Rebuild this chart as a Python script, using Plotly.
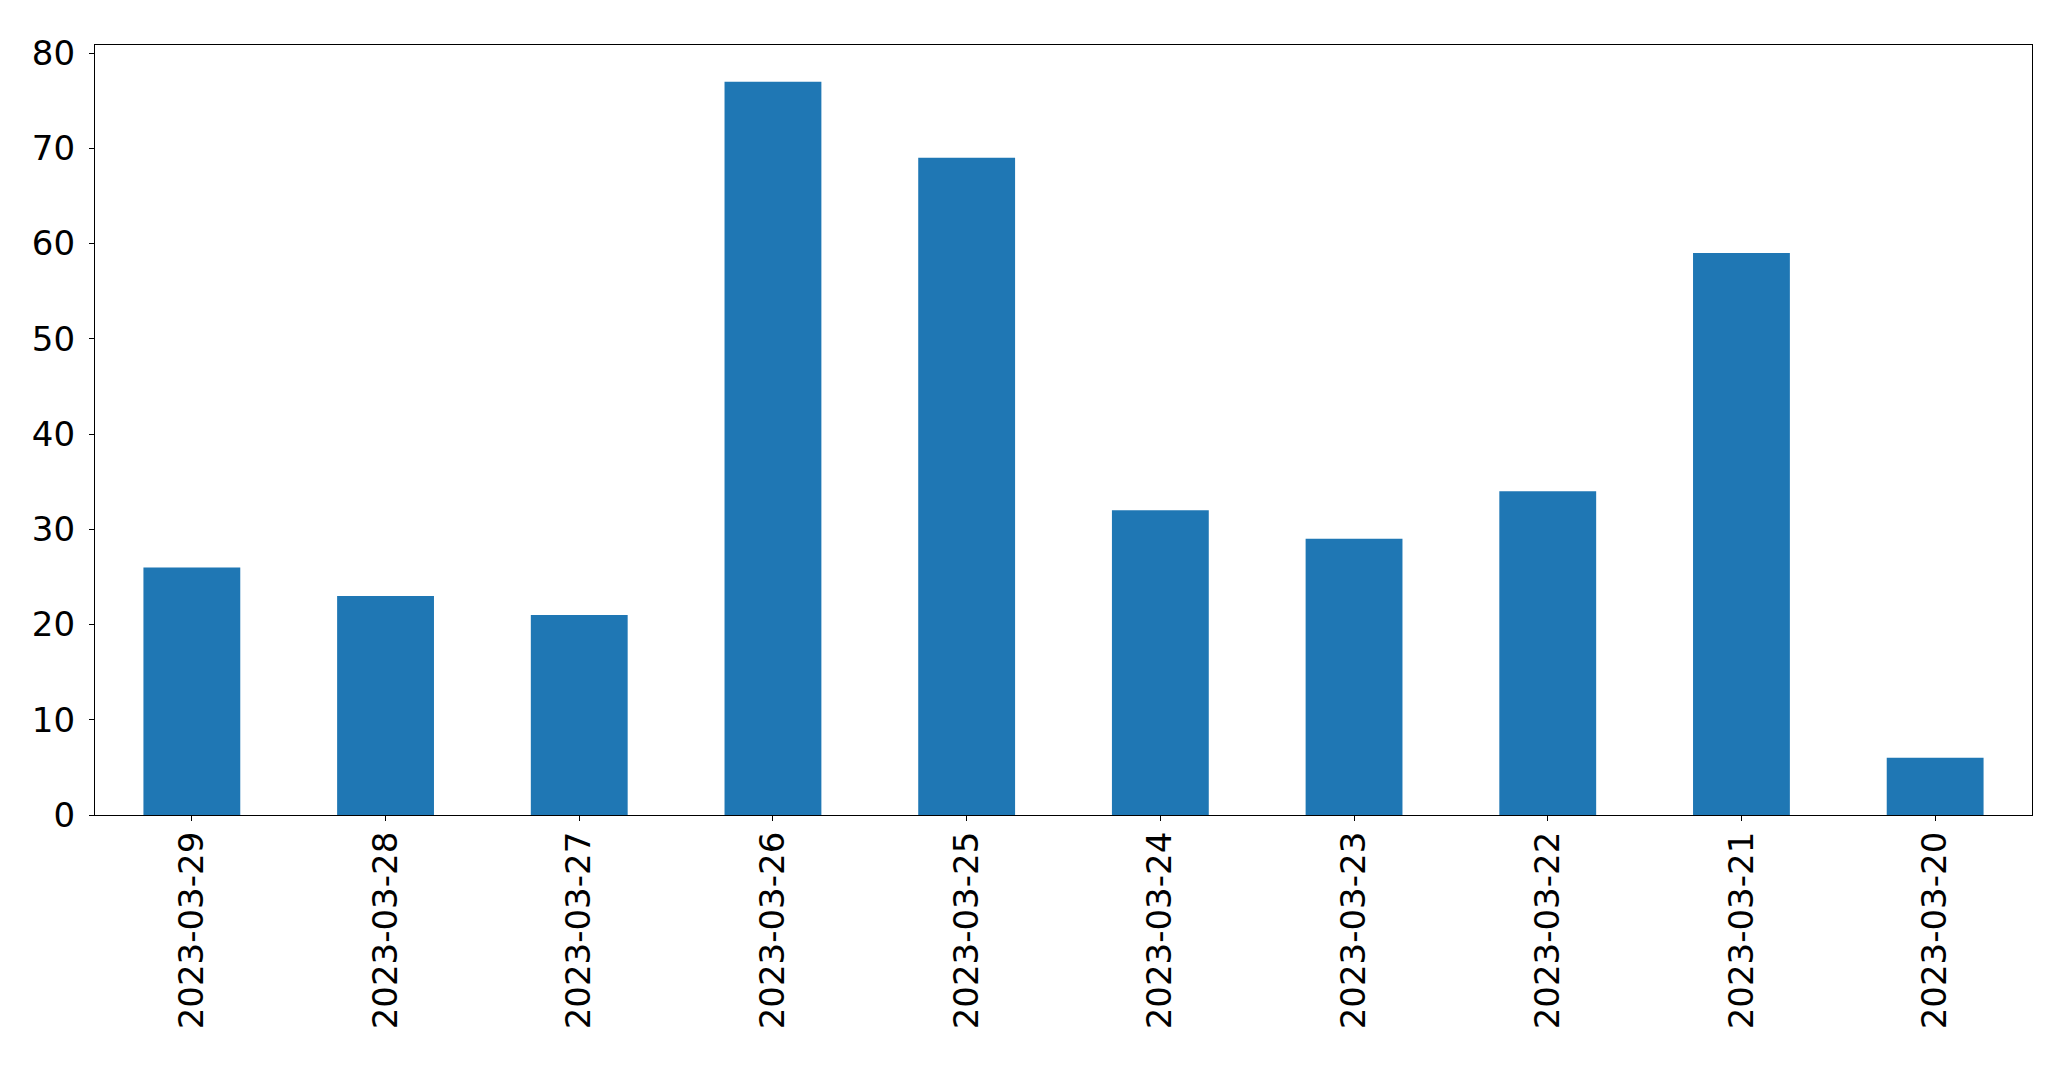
import plotly.graph_objects as go

dates = ["2023-03-29", "2023-03-28", "2023-03-27", "2023-03-26", "2023-03-25",
         "2023-03-24", "2023-03-23", "2023-03-22", "2023-03-21", "2023-03-20"]
counts = [26, 23, 21, 77, 69, 32, 29, 34, 59, 6]
y_ticks = [0, 10, 20, 30, 40, 50, 60, 70, 80]

fig = go.Figure(go.Bar(x=dates, y=counts, marker_color="#1f77b4",
                       marker_line_width=0, width=0.5))

axis_common = dict(showline=True, linecolor="black", linewidth=1.3, mirror=True,
                   ticks="outside", ticklen=5, tickwidth=1.3, tickcolor="black",
                   showgrid=False, zeroline=False, automargin=False,
                   tickfont=dict(family="DejaVu Sans", size=34, color="black"))

fig.update_layout(
    width=2071, height=1067,
    margin=dict(l=87, r=47, t=37, b=260),
    plot_bgcolor="white", paper_bgcolor="white",
    showlegend=False, bargap=0.5,
    xaxis=dict(type="category", range=[-0.5, 9.5], tickangle=-90,
               ticklabelstandoff=-3, **axis_common),
    yaxis=dict(range=[0, 80.85], tickvals=y_ticks, ticklabelstandoff=7,
               **axis_common),
)

fig.write_html("out.html")
